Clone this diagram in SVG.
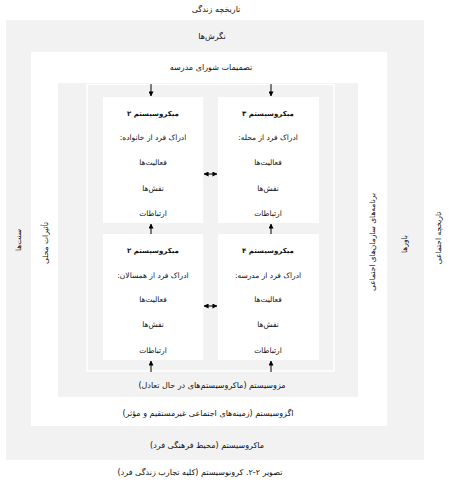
<svg xmlns="http://www.w3.org/2000/svg" width="450" height="482" viewBox="0 0 450 482">
<style>
text{font-family:"DejaVu Sans",sans-serif;font-size:7.5px;fill:#111;text-anchor:middle;direction:rtl;unicode-bidi:embed}
.o{font-size:8px}
.t{font-weight:bold;font-size:7px}
.ln{stroke:#000;stroke-width:1;fill:none}
.box{fill:#fff}
</style>
<defs>
<marker id="ah" viewBox="0 0 6 6" refX="5.5" refY="3" markerWidth="5" markerHeight="5" orient="auto-start-reverse" markerUnits="userSpaceOnUse">
<path d="M0,0 L6,3 L0,6 Z" fill="#000"/>
</marker>
</defs>
<rect width="450" height="482" fill="#fff"/>
<text class="o" x="216" y="12">تاریخچه زندگی</text>
<g id="chrono">
<rect x="6" y="20" width="418" height="440" fill="#f2f2f2"/>
<text class="o" x="212" y="39">نگرش‌ها</text>
<text class="o" x="207" y="448">ماکروسیستم (محیط فرهنگی فرد)</text>
<text transform="translate(21,240) rotate(-90)">سنت‌ها</text>
<text transform="translate(407,244) rotate(-90)">باورها</text>
</g>
<g id="exo">
<rect x="31" y="52" width="356" height="374" fill="#fff"/>
<text class="o" x="211" y="70">تصمیمات شورای مدرسه</text>
<text class="o" x="208" y="416">اگزوسیستم (زمینه‌های اجتماعی غیرمستقیم و مؤثر)</text>
<text transform="translate(48,243) rotate(-90)">تأثیرات محلی</text>
<text transform="translate(375,242) rotate(-90)">برنامه‌های سازمان‌های اجتماعی</text>
</g>
<g id="meso">
<rect x="58" y="83" width="300" height="314" fill="#f2f2f2"/>
<rect x="87" y="84.5" width="247" height="286.5" fill="none" stroke="#fff" stroke-width="1.5"/>
<text class="o" x="212" y="388">مزوسیستم (ماکروسیستم‌های در حال تعادل)</text>
</g>
<g id="micro1">
<rect class="box" x="103" y="97" width="100" height="126"/>
<text class="t" x="153" y="116">میکروسیستم ۲</text>
<text x="153" y="140">ادراک فرد از خانواده:</text>
<text x="153" y="165">فعالیت‌ها</text>
<text x="153" y="191">نقش‌ها</text>
<text x="153" y="216">ارتباطات</text>
</g>
<g id="micro3">
<rect class="box" x="218" y="97" width="101" height="126"/>
<text class="t" x="268" y="116">میکروسیستم ۳</text>
<text x="268" y="140">ادراک فرد از محله:</text>
<text x="268" y="165">فعالیت‌ها</text>
<text x="268" y="191">نقش‌ها</text>
<text x="268" y="216">ارتباطات</text>
</g>
<g id="micro2">
<rect class="box" x="103" y="234" width="100" height="126"/>
<text class="t" x="153" y="253">میکروسیستم ۲</text>
<text x="153" y="278">ادراک فرد از همسالان:</text>
<text x="153" y="302">فعالیت‌ها</text>
<text x="153" y="327">نقش‌ها</text>
<text x="153" y="353">ارتباطات</text>
</g>
<g id="micro4">
<rect class="box" x="218" y="234" width="101" height="126"/>
<text class="t" x="268" y="253">میکروسیستم ۴</text>
<text x="268" y="278">ادراک فرد از مدرسه:</text>
<text x="268" y="302">فعالیت‌ها</text>
<text x="268" y="327">نقش‌ها</text>
<text x="268" y="353">ارتباطات</text>
</g>
<g id="outside">
<text transform="translate(441,238) rotate(-90)">تاریخچه اجتماعی</text>
<text class="o" x="200" y="475">تصویر ۲-۲. کرونوسیستم (کلیه تجارب زندگی فرد)</text>
</g>
<g id="connectors">
<line class="ln" x1="151" y1="84" x2="151" y2="96" marker-end="url(#ah)"/>
<line class="ln" x1="271" y1="84" x2="271" y2="96" marker-end="url(#ah)"/>
<line class="ln" x1="151" y1="234" x2="151" y2="224" marker-end="url(#ah)"/>
<line class="ln" x1="271" y1="234" x2="271" y2="224" marker-end="url(#ah)"/>
<line class="ln" x1="151" y1="372" x2="151" y2="361" marker-end="url(#ah)"/>
<line class="ln" x1="271" y1="372" x2="271" y2="361" marker-end="url(#ah)"/>
<line class="ln" x1="204" y1="174" x2="217" y2="174" marker-start="url(#ah)" marker-end="url(#ah)"/>
<line class="ln" x1="204" y1="306" x2="217" y2="306" marker-start="url(#ah)" marker-end="url(#ah)"/>
</g>
</svg>
